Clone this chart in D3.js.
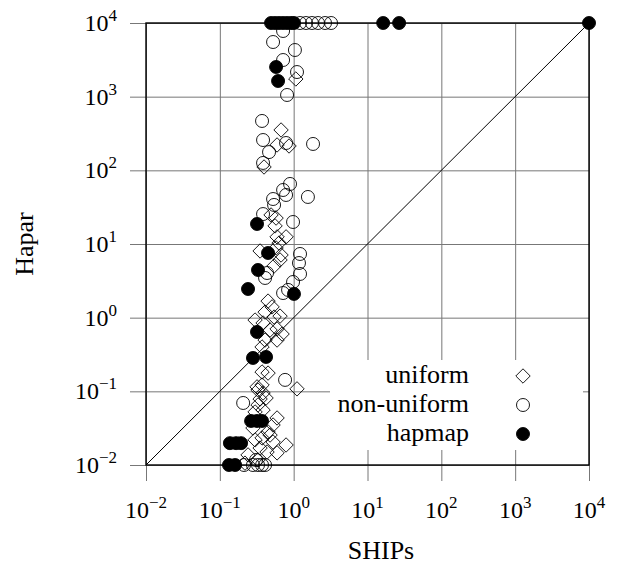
<!DOCTYPE html>
<html><head><meta charset="utf-8">
<script src="https://cdn.jsdelivr.net/npm/d3@7"></script>
<style>body{margin:0;background:#fff} svg{display:block} text{font-family:"Liberation Serif","DejaVu Serif",serif}</style>
</head><body>
<svg id="c" width="620" height="565"></svg>
<script>
const tickValues = [1e-2, 1e-1, 1, 1e1, 1e2, 1e3, 1e4];
const tickSup = ["\u22122", "\u22121", "0", "1", "2", "3", "4"];
const legendNames = ["uniform", "non-uniform", "hapmap"];
const xLabel = "SHIPs";
const yLabel = "Hapar";

const uniform = [
  [1.07,1738],[0.675,353],[0.596,221],[0.866,214],[0.397,111],[0.494,24.8],[0.578,22.5],[0.560,17.6],
  [0.596,12.5],[0.789,12.5],[0.634,10.3],[0.351,8.04],[0.578,8.83],[0.675,7.09],[0.654,6.07],[0.543,5.03],
  [0.450,1.68],[0.510,1.40],[0.410,1.19],[0.543,1.02],[0.654,1.05],[0.300,0.929],[0.385,0.847],[0.479,0.680],
  [0.596,0.702],[0.697,0.600],[0.596,0.497],[0.373,0.400],[0.410,0.497],[0.373,0.183],[0.450,0.177],[1.11,0.108],
  [0.329,0.104],[0.385,0.095],[0.373,0.122],[0.319,0.115],[0.329,0.0653],[0.385,0.0558],[0.300,0.0525],[0.596,0.0435],
  [0.526,0.0349],[0.450,0.0281],[0.373,0.0233],[0.479,0.0255],[0.300,0.0219],[0.526,0.0205],[0.789,0.0187],[0.596,0.0146],
  [0.436,0.0150],[0.241,0.0137],[0.329,0.0117],[0.219,0.0106],[0.351,0.0787],[0.423,0.0812],[0.281,0.0318],[0.351,0.0170]
];
const nonUniform = [
  [1.22,10000],[1.47,10000],[1.77,10000],[2.14,10000],[2.66,10000],[3.21,10000],
  [0.719,7790],[0.526,5520],[1.04,4300],[0.719,3145],[1.11,2160],[0.814,1054],[0.373,468],[0.385,258],
  [0.789,235],[1.83,228],[0.464,177],[0.385,126],[0.893,65.3],[0.719,54.1],[0.789,46.3],[1.56,43.5],
  [0.526,40.8],[0.543,33.9],[0.385,25.5],[0.981,19.9],[1.22,7.32],[1.18,5.52],[1.22,3.92],[0.981,3.05],
  [0.436,4.04],[0.410,3.46],[0.719,2.16],[0.840,2.38],[0.765,0.143],[0.207,0.0695],
  [0.213,0.01],[0.281,0.01],[0.329,0.01],[0.373,0.01],[0.410,0.01],[0.309,0.0117]
];
const hapmap = [
  [0.494,10000],[0.560,10000],[0.634,10000],[0.719,10000],[0.814,10000],[0.921,10000],[1.01,10000],
  [16.3,10000],[26.8,10000],[10000,10000],
  [0.578,2530],[0.615,1632],[0.319,18.7],[0.450,7.55],[0.329,4.44],[0.241,2.45],[1.01,2.10],[0.319,0.639],
  [0.281,0.284],[0.423,0.293],[0.265,0.0396],[0.319,0.0396],[0.373,0.0396],[0.137,0.0198],[0.166,0.0198],
  [0.194,0.0198],[0.133,0.01],[0.161,0.01]
];

const svg = d3.select("#c");
const L = 146, R = 589, T = 23, B = 465;
const x = d3.scaleLog().domain([1e-2, 1e4]).range([L, R]);
const y = d3.scaleLog().domain([1e-2, 1e4]).range([B, T]);
const gridColor = "#777";

// grid lines (inside) and outward ticks
const gx = svg.append("g").attr("transform", `translate(0,${B})`)
  .call(d3.axisBottom(x).tickValues(tickValues).tickSizeInner(16).tickSizeOuter(0).tickFormat(""));
gx.select(".domain").remove();
gx.selectAll(".tick line").attr("y1", -(B - T)).attr("stroke", gridColor).attr("stroke-width", 1);
const gy = svg.append("g").attr("transform", `translate(${L},0)`)
  .call(d3.axisLeft(y).tickValues(tickValues).tickSizeInner(16).tickSizeOuter(0).tickFormat(""));
gy.select(".domain").remove();
gy.selectAll(".tick line").attr("x1", R - L).attr("stroke", gridColor).attr("stroke-width", 1);

// tick labels with superscripts
tickValues.forEach((v, i) => {
  const t = svg.append("text").attr("x", x(v)).attr("y", 518)
    .attr("text-anchor", "middle").attr("font-size", 24).attr("fill", "#000");
  t.append("tspan").text("10");
  t.append("tspan").attr("dy", -10).attr("font-size", 17).text(tickSup[i]);
  const ty = svg.append("text").attr("x", 117).attr("y", y(v) + 8)
    .attr("text-anchor", "end").attr("font-size", 24).attr("fill", "#000");
  ty.append("tspan").text("10");
  ty.append("tspan").attr("dy", -10).attr("font-size", 17).text(tickSup[i]);
});

// diagonal
svg.append("line").attr("x1", x(1e-2)).attr("y1", y(1e-2)).attr("x2", x(1e4)).attr("y2", y(1e4))
  .attr("stroke", "#000").attr("stroke-width", 1);

// frame
svg.append("rect").attr("x", L).attr("y", T).attr("width", R - L).attr("height", B - T)
  .attr("fill", "none").attr("stroke", "#000").attr("stroke-width", 1.4);

const diamond = s => `M0,${-s}L${s},0L0,${s}L${-s},0Z`;

svg.append("g").selectAll("path").data(uniform).join("path")
  .attr("d", diamond(7.2))
  .attr("transform", d => `translate(${x(d[0])},${y(d[1])})`)
  .attr("fill", "none").attr("stroke", "#000").attr("stroke-width", 0.9);

svg.append("g").selectAll("circle").data(nonUniform).join("circle")
  .attr("cx", d => x(d[0])).attr("cy", d => y(d[1])).attr("r", 6.5)
  .attr("fill", "none").attr("stroke", "#000").attr("stroke-width", 0.9);

svg.append("g").selectAll("circle").data(hapmap).join("circle")
  .attr("cx", d => x(d[0])).attr("cy", d => y(d[1])).attr("r", 6.5)
  .attr("fill", "#000").attr("stroke", "#000").attr("stroke-width", 0.9);

// axis labels
svg.append("text").attr("x", 381).attr("y", 559).attr("text-anchor", "middle")
  .attr("font-size", 26).text(xLabel);
svg.append("text").attr("transform", `translate(33,${(T + B) / 2}) rotate(-90)`).attr("text-anchor", "middle")
  .attr("font-size", 26).text(yLabel);

// legend
const lg = svg.append("g");
lg.append("rect").attr("x", 330).attr("y", 360).attr("width", 253).attr("height", 90).attr("fill", "#fff");
const rows = [376, 405, 434];
legendNames.forEach((n, i) => {
  lg.append("text").attr("x", 469).attr("y", rows[i] + 7).attr("text-anchor", "end")
    .attr("font-size", 26).text(n);
});
lg.append("path").attr("d", diamond(7.2)).attr("transform", `translate(523,${rows[0]})`)
  .attr("fill", "none").attr("stroke", "#000").attr("stroke-width", 0.9);
lg.append("circle").attr("cx", 523).attr("cy", rows[1]).attr("r", 6.5)
  .attr("fill", "none").attr("stroke", "#000").attr("stroke-width", 0.9);
lg.append("circle").attr("cx", 523).attr("cy", rows[2]).attr("r", 6.5)
  .attr("fill", "#000").attr("stroke", "#000").attr("stroke-width", 0.9);
</script>
</body></html>
